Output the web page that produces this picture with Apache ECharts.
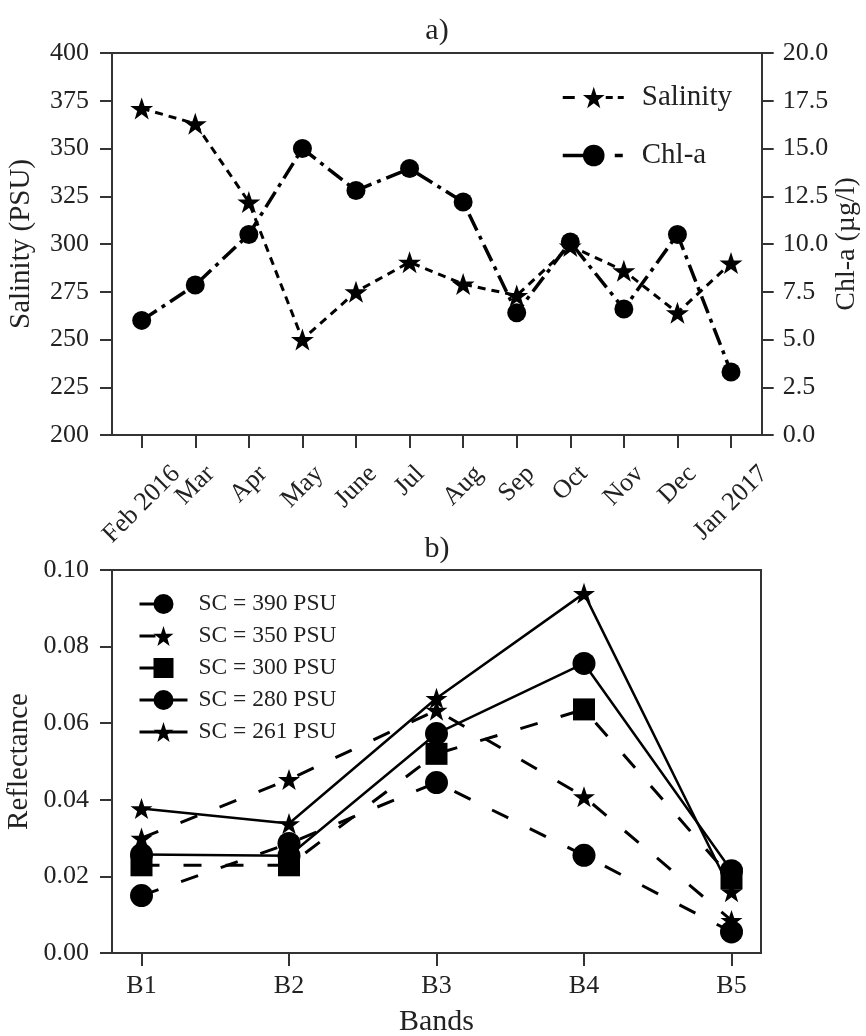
<!DOCTYPE html>
<html><head><meta charset="utf-8">
<script src="https://cdn.jsdelivr.net/npm/echarts@6/dist/echarts.min.js"></script>
<style>html,body{margin:0;padding:0;background:#fff}#c{width:866px;height:1036px}</style>
</head><body><div id="c"></div>
<script>
// ---- data ----
const months = ['Feb 2016','Mar','Apr','May','June','Jul','Aug','Sep','Oct','Nov','Dec','Jan 2017'];
const salinity = [371, 363, 322, 250, 275, 290.5, 279, 273, 299, 286, 264, 290];
const chla = [6.0, 7.85, 10.5, 15.0, 12.8, 13.95, 12.2, 6.4, 10.1, 6.6, 10.5, 3.3];
const bands = ['B1','B2','B3','B4','B5'];
const sc390 = [0.015, 0.0286, 0.0445, 0.0255, 0.0055];
const sc350 = [0.030, 0.0453, 0.0634, 0.0408, 0.0085];
const sc300 = [0.0229, 0.0229, 0.052, 0.0636, 0.0195];
const sc280 = [0.0257, 0.0254, 0.0573, 0.0756, 0.0215];
const sc261 = [0.0377, 0.0338, 0.0665, 0.0939, 0.016];
const seriesNames = ['SC = 390 PSU','SC = 350 PSU','SC = 300 PSU','SC = 280 PSU','SC = 261 PSU'];

// ---- styling ----
const FONT = '"Liberation Serif", "Times New Roman", serif';
const TXT = '#222';
const AX = '#333';
const STAR = 'path://M50,0 L61.8,35.1 L98.1,35.1 L68.8,56.7 L79.4,91 L50,70 L20.6,91 L31.2,56.7 L1.9,35.1 L38.2,35.1 Z';

const ctx = document.createElement('canvas').getContext('2d');
ctx.font = '26px "Liberation Serif"';
const monthRich = {};
months.forEach((m, i) => {
  const w = ctx.measureText(m).width;
  monthRich['m' + i] = {fontSize: 26, fontFamily: FONT, color: TXT, padding: [0.5 * w, 0.5 * w, 0, 0]};
});

const idx = a => a.map((v, i) => [i, v]);
const axisLine = {show: true, onZero: false, lineStyle: {color: AX, width: 2}};
const axisTick = (len) => ({show: true, inside: false, length: len, lineStyle: {color: AX, width: 2}});

const chart = echarts.init(document.getElementById('c'), null, {renderer: 'canvas'});
chart.setOption({
  backgroundColor: '#fff',
  animation: false,
  textStyle: {fontFamily: FONT, color: TXT},
  graphic: [
    {type: 'text', x: 437, y: 31, style: {text: 'a)', font: '30px ' + FONT, fill: TXT, textAlign: 'center', textVerticalAlign: 'middle'}},
    {type: 'text', x: 437, y: 549, style: {text: 'b)', font: '30px ' + FONT, fill: TXT, textAlign: 'center', textVerticalAlign: 'middle'}}
  ],
  grid: [
    {left: 114.9, top: 53, width: 642.9, height: 382, show: false, outerBoundsMode: 'none', containLabel: false},
    {left: 112, top: 570, width: 649, height: 383, show: true, borderColor: AX, borderWidth: 2, backgroundColor: 'transparent', outerBoundsMode: 'none', containLabel: false},
    {left: 112, top: 53, width: 650, height: 382, show: true, borderColor: AX, borderWidth: 2, backgroundColor: 'transparent', outerBoundsMode: 'none', containLabel: false}
  ],
  xAxis: [
    {type: 'category', gridIndex: 0, data: months, boundaryGap: true,
     axisLine: axisLine, splitLine: {show: false},
     axisTick: Object.assign(axisTick(13), {alignWithLabel: true, interval: 0}),
     axisLabel: {interval: 0, rotate: 45, align: 'center', verticalAlign: 'middle', margin: 35,
       formatter: (v, i) => '{m' + i + '|' + v + '}', rich: monthRich}},
    {type: 'value', gridIndex: 1, min: -0.2, max: 4.2,
     name: 'Bands', nameLocation: 'middle', nameGap: 54, nameMoveOverlap: false, nameTextStyle: {fontSize: 30, fontFamily: FONT, color: TXT},
     axisLine: axisLine, splitLine: {show: false},
     axisTick: Object.assign(axisTick(13), {customValues: bands.map((b, i) => i)}),
     axisLabel: {customValues: bands.map((b, i) => i), fontSize: 26, color: TXT, fontFamily: FONT, margin: 20,
       showMinLabel: true, showMaxLabel: true,
       formatter: v => bands[Math.round(v)]}}
  ],
  yAxis: [
    {type: 'value', gridIndex: 0, min: 200, max: 400, interval: 25, position: 'left', offset: 2.9,
     name: 'Salinity (PSU)', nameLocation: 'middle', nameRotate: 90, nameGap: 76, nameMoveOverlap: false, nameTextStyle: {fontSize: 29, fontFamily: FONT, color: TXT},
     axisLine: axisLine, axisTick: axisTick(12), splitLine: {show: false},
     axisLabel: {fontSize: 26, color: TXT, fontFamily: FONT, margin: 23}},
    {type: 'value', gridIndex: 0, min: 0, max: 20, interval: 2.5, position: 'right', offset: 3.9,
     name: 'Chl-a (µg/l)', nameLocation: 'middle', nameRotate: 90, nameGap: 71, nameMoveOverlap: false, nameTextStyle: {fontSize: 28, fontFamily: FONT, color: TXT},
     axisLine: axisLine, axisTick: axisTick(12), splitLine: {show: false},
     axisLabel: {fontSize: 26, color: TXT, fontFamily: FONT, margin: 21, formatter: v => v.toFixed(1)}},
    {type: 'value', gridIndex: 1, min: 0, max: 0.1, interval: 0.02, position: 'left',
     name: 'Reflectance', nameLocation: 'middle', nameRotate: 90, nameGap: 78, nameMoveOverlap: false, nameTextStyle: {fontSize: 29, fontFamily: FONT, color: TXT},
     axisLine: axisLine, axisTick: axisTick(12), splitLine: {show: false},
     axisLabel: {fontSize: 26, color: TXT, fontFamily: FONT, margin: 23, formatter: v => v.toFixed(2)}}
  ],
  legend: [
    {orient: 'vertical', left: 556, top: 78, itemWidth: 62, itemHeight: 27, itemGap: 29, selectedMode: false,
     textStyle: {fontSize: 29, fontFamily: FONT, color: TXT, padding: [0, 0, 0, 12]},
     data: [
       {name: 'Salinity', lineStyle: {type: [12, 31, 7, 5, 6, 100], width: 3}},
       {name: 'Chl-a', lineStyle: {type: [26, 26, 8, 100], width: 3.5}}
     ]},
    {orient: 'vertical', left: 133, top: 587, itemWidth: 48, itemHeight: 25, itemGap: 8, selectedMode: false,
     textStyle: {fontSize: 23.5, fontFamily: FONT, color: TXT, padding: [0, 0, 0, 6]},
     data: [
       {name: seriesNames[0], lineStyle: {type: [16, 100], width: 3}},
       {name: seriesNames[1], lineStyle: {type: [16, 100], width: 3}},
       {name: seriesNames[2], lineStyle: {type: [16, 100], width: 3}},
       {name: seriesNames[3], lineStyle: {type: 'solid', width: 3}},
       {name: seriesNames[4], lineStyle: {type: 'solid', width: 3}}
     ]}
  ],
  series: [
    {name: 'Salinity', type: 'line', xAxisIndex: 0, yAxisIndex: 0, data: salinity,
     symbol: STAR, symbolSize: [23, 22], itemStyle: {color: '#000'},
     lineStyle: {color: '#000', width: 3, type: [8, 6]}},
    {name: 'Chl-a', type: 'line', xAxisIndex: 0, yAxisIndex: 1, data: chla,
     symbol: 'circle', symbolSize: 19, itemStyle: {color: '#000'},
     lineStyle: {color: '#000', width: 3.5, type: [18, 6, 4, 6]}},
    {name: seriesNames[0], type: 'line', xAxisIndex: 1, yAxisIndex: 2, data: idx(sc390),
     symbol: 'circle', symbolSize: 23, itemStyle: {color: '#000'},
     lineStyle: {color: '#000', width: 3, type: [18, 24]}},
    {name: seriesNames[1], type: 'line', xAxisIndex: 1, yAxisIndex: 2, data: idx(sc350),
     symbol: STAR, symbolSize: [22, 21], itemStyle: {color: '#000'},
     lineStyle: {color: '#000', width: 3, type: [18, 24]}},
    {name: seriesNames[2], type: 'line', xAxisIndex: 1, yAxisIndex: 2, data: idx(sc300),
     symbol: 'rect', symbolSize: 22, itemStyle: {color: '#000'},
     lineStyle: {color: '#000', width: 3, type: [18, 24]}},
    {name: seriesNames[3], type: 'line', xAxisIndex: 1, yAxisIndex: 2, data: idx(sc280),
     symbol: 'circle', symbolSize: 23, itemStyle: {color: '#000'},
     lineStyle: {color: '#000', width: 2.5, type: 'solid'}},
    {name: seriesNames[4], type: 'line', xAxisIndex: 1, yAxisIndex: 2, data: idx(sc261),
     symbol: STAR, symbolSize: [22, 21], itemStyle: {color: '#000'},
     lineStyle: {color: '#000', width: 2.5, type: 'solid'}}
  ]
});
</script>
</body></html>
